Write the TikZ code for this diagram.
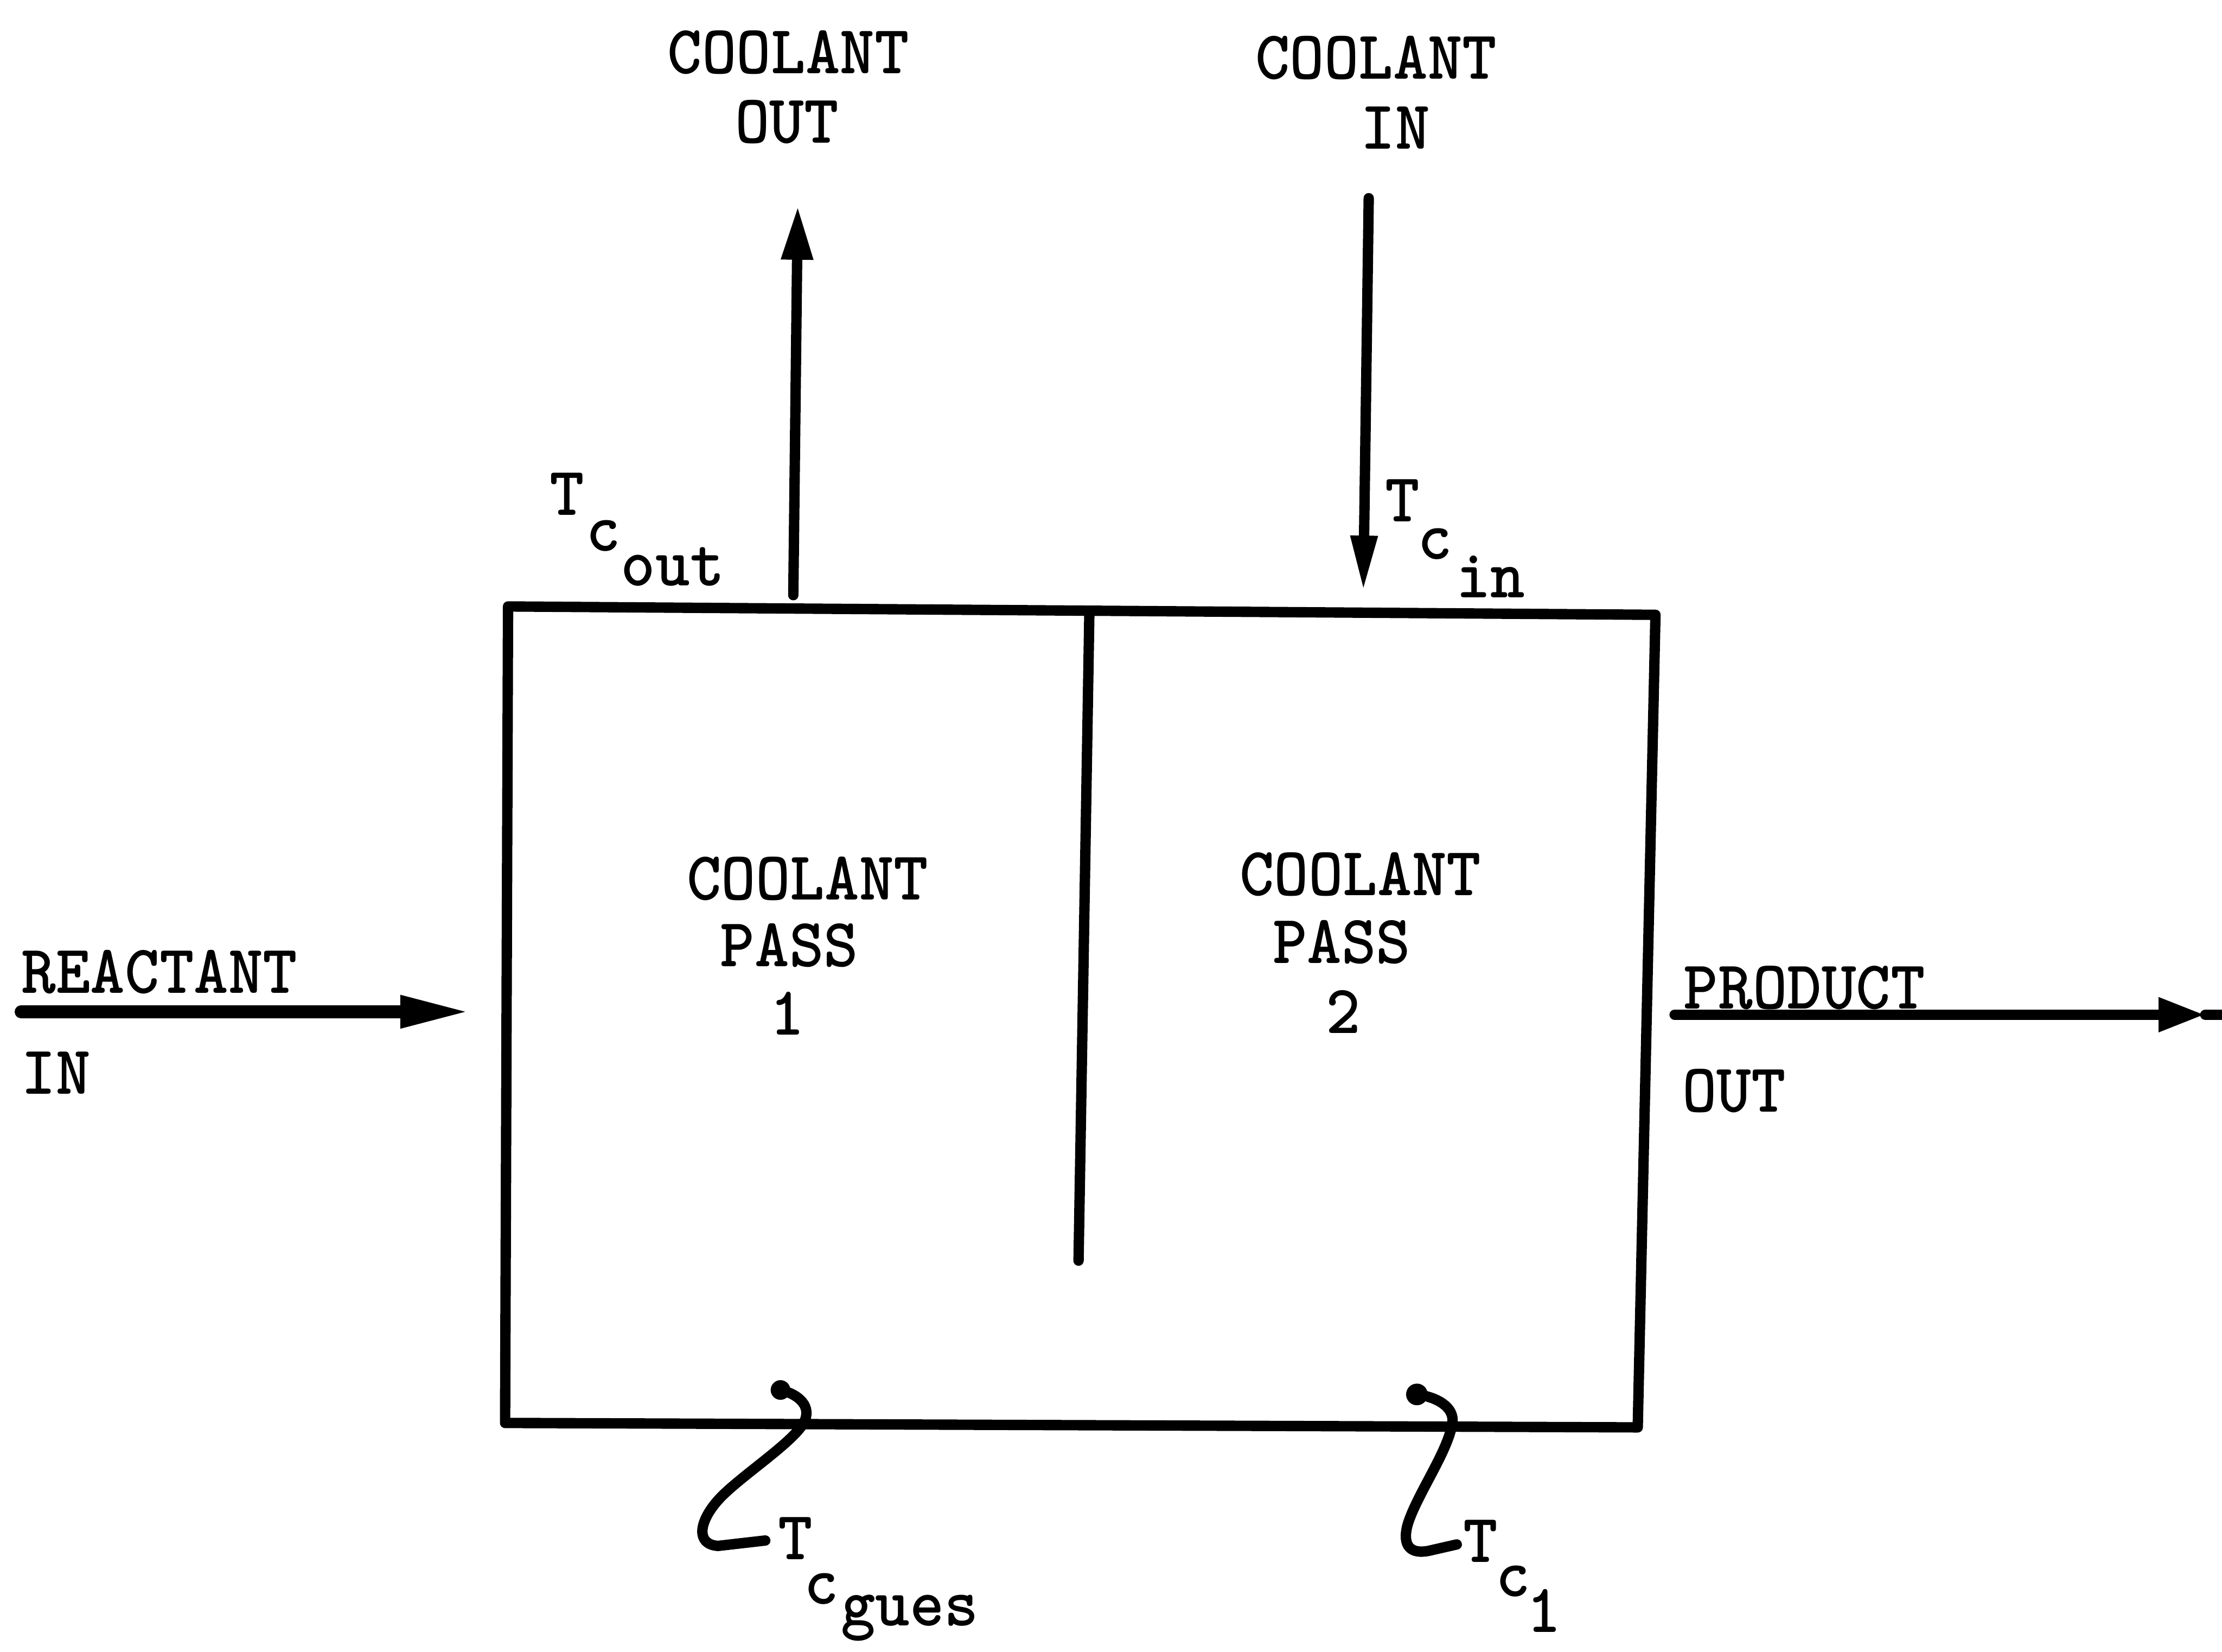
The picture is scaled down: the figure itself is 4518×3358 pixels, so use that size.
\documentclass[tikz,border=0pt]{standalone}
\usepackage{fontspec}
\usetikzlibrary{arrows.meta}
\newcommand\tl[1]{\scalebox{1}[1.05]{#1}}
\begin{document}
\begin{tikzpicture}[x=0.01cm,y=-0.01cm,
  lab/.style={inner sep=0pt, font=\ttfamily\bfseries\fontsize{38}{44}\selectfont},
  wall/.style={line width=6pt, line cap=round, line join=round},
  flow/.style={line width=6pt, line cap=round},
  squig/.style={line width=6pt, line cap=round}]
\useasboundingbox (0,0) rectangle (4518,3358);
% box
\coordinate (tl) at (1033,1233);
\coordinate (tr) at (3366,1250);
\coordinate (br) at (3330,2902);
\coordinate (bl) at (1027,2893);
\draw[wall] (tl) -- (tr) -- (br) -- (bl) -- cycle;
\coordinate (dtop) at (2215,1243);
\coordinate (dbot) at (2193,2563);
\draw[wall] (dtop) -- (dbot);
% coolant out
\coordinate (cobase) at (1613,1210);
\coordinate (cotip) at (1622,418);
\draw[flow, -{Triangle[length=1.1cm,width=0.6cm]}] (cobase) -- (cotip);
% coolant in
\coordinate (cistart) at (2783,403);
\coordinate (citip) at (2772,1204);
\draw[flow, -{Triangle[length=1.15cm,width=0.5cm]}] (cistart) -- (citip);
% reactant in
\coordinate (rstart) at (43,2057);
\coordinate (rtip) at (959,2057);
\draw[flow, line width=7.5pt, -{Triangle[length=1.45cm,width=0.6cm]}] (rstart) -- (rtip);
% product out
\coordinate (pstart) at (3405,2063);
\coordinate (ptip) at (4484,2063);
\coordinate (pend) at (4518,2063);
\draw[flow, -{Triangle[length=0.95cm,width=0.65cm]}] (pstart) -- (ptip);
\draw[flow] (ptip) -- (pend);
% labels top
\node[lab] (co1) at (1603,107) {\tl{COOLANT}};
\node[lab] (co2) at (1600,248) {\tl{OUT}};
\node[lab] (ci1) at (2798,118) {\tl{COOLANT}};
\node[lab] (ci2) at (2837,260) {\tl{IN}};
% pass labels
\node[lab] (p1a) at (1642,1786) {\tl{COOLANT}};
\node[lab] (p1b) at (1605,1922) {\tl{PASS}};
\node[lab] (p1c) at (1601,2060) {\tl{1}};
\node[lab] (p2a) at (2766,1778) {\tl{COOLANT}};
\node[lab] (p2b) at (2728,1916) {\tl{PASS}};
\node[lab] (p2c) at (2731,2057) {\tl{2}};
% side labels
\node[lab, anchor=west] (ra) at (43,1976) {\tl{REACTANT}};
\node[lab, anchor=west] (rb) at (43,2181) {\tl{IN}};
\node[lab, anchor=west] (pa) at (3423,2008) {\tl{PRODUCT}};
\node[lab, anchor=west] (pb) at (3420,2218) {\tl{OUT}};
% T labels
\node[lab] (t1T) at (1153,1005) {\tl{T}};
\node[lab] (t1c) at (1227,1089) {\tl{c}};
\node[lab] (t1s) at (1368,1152) {\tl{out}};
\node[lab] (t2T) at (2852,1018) {\tl{T}};
\node[lab] (t2c) at (2918,1106) {\tl{c}};
\node[lab] (t2s) at (3031,1173) {\tl{in}};
\node[lab] (t3T) at (1617,3128) {\tl{T}};
\node[lab] (t3c) at (1670,3230) {\tl{c}};
\node[lab] (t3s) at (1850,3290) {\tl{gues}};
\node[lab] (t4T) at (3011,3133) {\tl{T}};
\node[lab] (t4c) at (3077,3215) {\tl{c}};
\node[lab] (t4s) at (3139,3275) {\tl{1}};
% squiggles
\coordinate (s1a) at (1587,2826);
\fill (s1a) circle (20);
\draw[squig] (s1a) .. controls (1625,2835) and (1652,2860) .. (1634,2893)
  .. controls (1610,2935) and (1500,3005) .. (1460,3050)
  .. controls (1420,3095) and (1415,3140) .. (1460,3143) -- (1556,3132);
\coordinate (s2a) at (2881,2835);
\fill (s2a) circle (22);
\draw[squig] (s2a) .. controls (2920,2840) and (2958,2860) .. (2953,2893)
  .. controls (2945,2950) and (2880,3040) .. (2862,3100)
  .. controls (2850,3145) and (2870,3160) .. (2905,3153) -- (2962,3140);
\end{tikzpicture}
\end{document}
